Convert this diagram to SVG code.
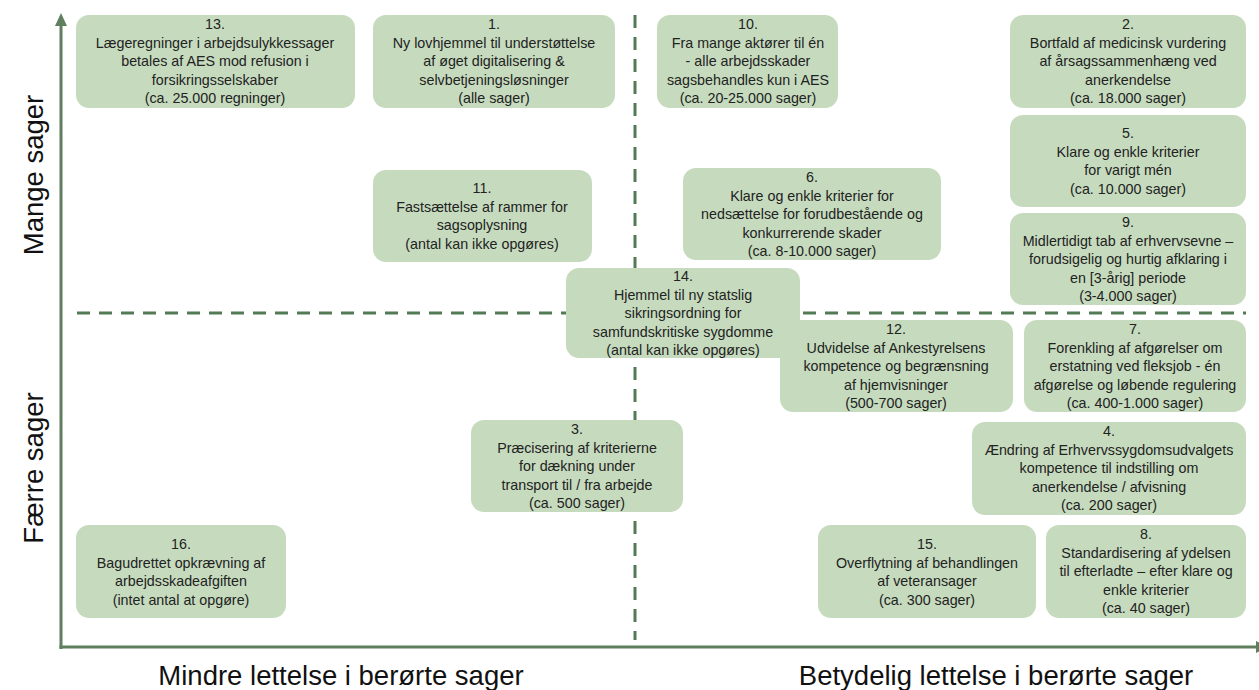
<svg xmlns="http://www.w3.org/2000/svg" width="1259" height="690" viewBox="0 0 1259 690">
<style>
.box{fill:#c6dbbe;}
.t{font-family:"Liberation Sans",Arial,sans-serif;font-size:14.3px;fill:#222;text-anchor:middle;}
.ax{stroke:#5f7f5f;stroke-width:3;fill:none;}
.dash{stroke:#527a55;stroke-width:3;stroke-dasharray:13 9;fill:none;}
.lab{font-family:"Liberation Sans",Arial,sans-serif;font-size:27.5px;fill:#111;text-anchor:middle;}
</style>
<rect width="1259" height="690" fill="#fff"/>
<g id="connectors">
<line class="dash" x1="635" y1="15" x2="635" y2="640"/>
<line class="dash" x1="77" y1="313" x2="1246" y2="313"/>
<line class="ax" x1="61" y1="649" x2="61" y2="24"/>
<polygon points="61,13 55,26 67,26" fill="#5f7f5f"/>
<line class="ax" x1="59.5" y1="647" x2="1257" y2="647"/>
<polygon points="1268,647 1256,641 1256,653" fill="#5f7f5f"/>
</g>
<g id="labels">
<text class="lab" transform="translate(43,175) rotate(-90)">Mange sager</text>
<text class="lab" transform="translate(43,468) rotate(-90)">Færre sager</text>
<text class="lab" x="341" y="685">Mindre lettelse i berørte sager</text>
<text class="lab" x="996" y="685">Betydelig lettelse i berørte sager</text>
</g>
<g id="n13"><rect class="box" x="76" y="15" width="279" height="93" rx="13"/>
<text class="t"><tspan x="215" y="29">13.</tspan><tspan x="215" dy="18.5">Lægeregninger i arbejdsulykkessager</tspan><tspan x="215" dy="18.5">betales af AES mod refusion i</tspan><tspan x="215" dy="18.5">forsikringsselskaber</tspan><tspan x="215" dy="18.5">(ca. 25.000 regninger)</tspan></text></g>
<g id="n1"><rect class="box" x="373" y="15" width="242" height="93" rx="13"/>
<text class="t"><tspan x="494" y="29">1.</tspan><tspan x="494" dy="18.5">Ny lovhjemmel til understøttelse</tspan><tspan x="494" dy="18.5">af øget digitalisering &amp;</tspan><tspan x="494" dy="18.5">selvbetjeningsløsninger</tspan><tspan x="494" dy="18.5">(alle sager)</tspan></text></g>
<g id="n10"><rect class="box" x="657" y="15" width="181" height="93" rx="13"/>
<text class="t"><tspan x="748" y="29">10.</tspan><tspan x="748" dy="18.5">Fra mange aktører til én</tspan><tspan x="748" dy="18.5">- alle arbejdsskader</tspan><tspan x="748" dy="18.5">sagsbehandles kun i AES</tspan><tspan x="748" dy="18.5">(ca. 20-25.000 sager)</tspan></text></g>
<g id="n2"><rect class="box" x="1010" y="15" width="236" height="93" rx="13"/>
<text class="t"><tspan x="1128" y="29">2.</tspan><tspan x="1128" dy="18.5">Bortfald af medicinsk vurdering</tspan><tspan x="1128" dy="18.5">af årsagssammenhæng ved</tspan><tspan x="1128" dy="18.5">anerkendelse</tspan><tspan x="1128" dy="18.5">(ca. 18.000 sager)</tspan></text></g>
<g id="n5"><rect class="box" x="1010" y="115" width="236" height="92" rx="13"/>
<text class="t"><tspan x="1128" y="138">5.</tspan><tspan x="1128" dy="18.5">Klare og enkle kriterier</tspan><tspan x="1128" dy="18.5">for varigt mén</tspan><tspan x="1128" dy="18.5">(ca. 10.000 sager)</tspan></text></g>
<g id="n9"><rect class="box" x="1010" y="213" width="236" height="92" rx="13"/>
<text class="t"><tspan x="1128" y="227">9.</tspan><tspan x="1128" dy="18.5">Midlertidigt tab af erhvervsevne –</tspan><tspan x="1128" dy="18.5">forudsigelig og hurtig afklaring i</tspan><tspan x="1128" dy="18.5">en [3-årig] periode</tspan><tspan x="1128" dy="18.5">(3-4.000 sager)</tspan></text></g>
<g id="n11"><rect class="box" x="373" y="170" width="219" height="92" rx="13"/>
<text class="t"><tspan x="482" y="193">11.</tspan><tspan x="482" dy="18.5">Fastsættelse af rammer for</tspan><tspan x="482" dy="18.5">sagsoplysning</tspan><tspan x="482" dy="18.5">(antal kan ikke opgøres)</tspan></text></g>
<g id="n6"><rect class="box" x="683" y="168" width="258" height="92" rx="13"/>
<text class="t"><tspan x="812" y="182">6.</tspan><tspan x="812" dy="18.5">Klare og enkle kriterier for</tspan><tspan x="812" dy="18.5">nedsættelse for forudbestående og</tspan><tspan x="812" dy="18.5">konkurrerende skader</tspan><tspan x="812" dy="18.5">(ca. 8-10.000 sager)</tspan></text></g>
<g id="n14"><rect class="box" x="566" y="268" width="234" height="90" rx="13"/>
<text class="t"><tspan x="683" y="281">14.</tspan><tspan x="683" dy="18.5">Hjemmel til ny statslig</tspan><tspan x="683" dy="18.5">sikringsordning for</tspan><tspan x="683" dy="18.5">samfundskritiske sygdomme</tspan><tspan x="683" dy="18.5">(antal kan ikke opgøres)</tspan></text></g>
<g id="n12"><rect class="box" x="780" y="320" width="233" height="92" rx="13"/>
<text class="t"><tspan x="896" y="334">12.</tspan><tspan x="896" dy="18.5">Udvidelse af Ankestyrelsens</tspan><tspan x="896" dy="18.5">kompetence og begrænsning</tspan><tspan x="896" dy="18.5">af hjemvisninger</tspan><tspan x="896" dy="18.5">(500-700 sager)</tspan></text></g>
<g id="n7"><rect class="box" x="1024" y="320" width="222" height="92" rx="13"/>
<text class="t"><tspan x="1135" y="334">7.</tspan><tspan x="1135" dy="18.5">Forenkling af afgørelser om</tspan><tspan x="1135" dy="18.5">erstatning ved fleksjob - én</tspan><tspan x="1135" dy="18.5">afgørelse og løbende regulering</tspan><tspan x="1135" dy="18.5">(ca. 400-1.000 sager)</tspan></text></g>
<g id="n4"><rect class="box" x="972" y="422" width="274" height="93" rx="13"/>
<text class="t"><tspan x="1109" y="436">4.</tspan><tspan x="1109" dy="18.5">Ændring af Erhvervssygdomsudvalgets</tspan><tspan x="1109" dy="18.5">kompetence til indstilling om</tspan><tspan x="1109" dy="18.5">anerkendelse / afvisning</tspan><tspan x="1109" dy="18.5">(ca. 200 sager)</tspan></text></g>
<g id="n3"><rect class="box" x="471" y="420" width="212" height="92" rx="13"/>
<text class="t"><tspan x="577" y="434">3.</tspan><tspan x="577" dy="18.5">Præcisering af kriterierne</tspan><tspan x="577" dy="18.5">for dækning under</tspan><tspan x="577" dy="18.5">transport til / fra arbejde</tspan><tspan x="577" dy="18.5">(ca. 500 sager)</tspan></text></g>
<g id="n16"><rect class="box" x="76" y="525" width="210" height="93" rx="13"/>
<text class="t"><tspan x="181" y="549">16.</tspan><tspan x="181" dy="18.5">Bagudrettet opkrævning af</tspan><tspan x="181" dy="18.5">arbejdsskadeafgiften</tspan><tspan x="181" dy="18.5">(intet antal at opgøre)</tspan></text></g>
<g id="n15"><rect class="box" x="818" y="525" width="218" height="93" rx="13"/>
<text class="t"><tspan x="927" y="549">15.</tspan><tspan x="927" dy="18.5">Overflytning af behandlingen</tspan><tspan x="927" dy="18.5">af veteransager</tspan><tspan x="927" dy="18.5">(ca. 300 sager)</tspan></text></g>
<g id="n8"><rect class="box" x="1046" y="525" width="200" height="93" rx="13"/>
<text class="t"><tspan x="1146" y="539">8.</tspan><tspan x="1146" dy="18.5">Standardisering af ydelsen</tspan><tspan x="1146" dy="18.5">til efterladte – efter klare og</tspan><tspan x="1146" dy="18.5">enkle kriterier</tspan><tspan x="1146" dy="18.5">(ca. 40 sager)</tspan></text></g>
</svg>
